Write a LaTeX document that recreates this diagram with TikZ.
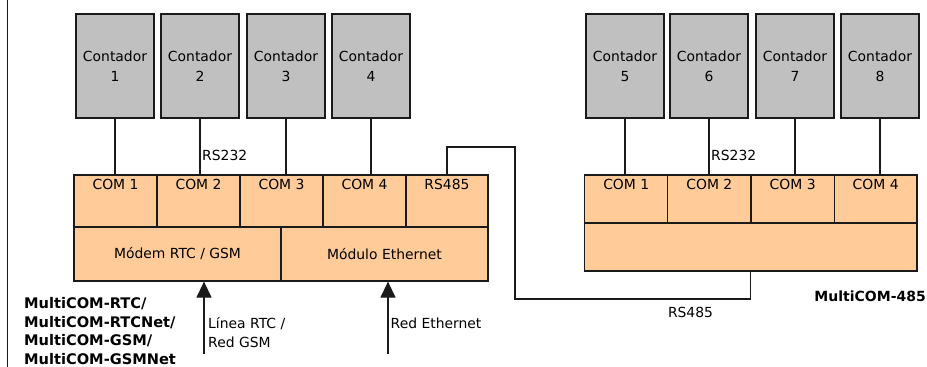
\documentclass[tikz,border=0pt]{standalone}
\usepackage{fontspec}
\setmainfont{DejaVu Sans}
\usetikzlibrary{arrows.meta}
\definecolor{boxgray}{HTML}{C0C0C0}
\definecolor{peach}{HTML}{FFCC99}
\definecolor{edge}{HTML}{1A1A1A}
\begin{document}
\begin{tikzpicture}[x=1pt,y=-1pt,
  every node/.style={font=\fontsize{13.9}{20}\selectfont},
  meter/.style={draw=edge,line width=1.2pt,fill=boxgray,inner sep=0pt,minimum width=78pt,minimum height=104pt,align=center},
  cell/.style={draw=edge,line width=1.2pt,fill=peach,inner sep=0pt},
  celltext/.style={anchor=north,inner sep=0pt},
  wire/.style={draw=edge,line width=1.2pt},
  arr/.style={draw=edge,line width=1.2pt,-{Triangle[width=15pt,length=16pt]}},
  lbl/.style={inner sep=0pt,anchor=west,align=left},
  bold/.style={inner sep=0pt,font=\fontsize{14.6}{18.7}\selectfont\bfseries,align=left}]
\useasboundingbox (0,0) rectangle (927,367);
\draw[line width=1.5pt,edge] (7.5,0) -- (7.5,367);
% left meters
\node[meter] (k1) at (115,66) {Contador\\1};
\node[meter] (k2) at (200,66) {Contador\\2};
\node[meter] (k3) at (286,66) {Contador\\3};
\node[meter] (k4) at (371,66) {Contador\\4};
% left COM row
\node[cell,minimum width=83pt,minimum height=52pt] (c1) at (115.5,201) {};
\node[cell,minimum width=83pt,minimum height=52pt] (c2) at (198.5,201) {};
\node[cell,minimum width=83pt,minimum height=52pt] (c3) at (281.5,201) {};
\node[cell,minimum width=83pt,minimum height=52pt] (c4) at (364.5,201) {};
\node[cell,minimum width=82pt,minimum height=52pt] (rs) at (447,201) {};
\node[celltext] (t1) at ([yshift=-5pt]c1.north) {COM 1};
\node[celltext] (t2) at ([yshift=-5pt]c2.north) {COM 2};
\node[celltext] (t3) at ([yshift=-5pt]c3.north) {COM 3};
\node[celltext] (t4) at ([yshift=-5pt]c4.north) {COM 4};
\node[celltext] (t5) at ([yshift=-5pt]rs.north) {RS485};
\node[cell,minimum width=207pt,minimum height=54pt] (modem) at (177.5,254) {Módem RTC / GSM};
\node[cell,minimum width=207pt,minimum height=54pt] (eth) at (384.5,254) {Módulo Ethernet};
% right meters
\node[meter] (k5) at (625,66) {Contador\\5};
\node[meter] (k6) at (709,66) {Contador\\6};
\node[meter] (k7) at (795,66) {Contador\\7};
\node[meter] (k8) at (880,66) {Contador\\8};
\node[cell,minimum width=83pt,minimum height=48pt] (d1) at (626.2,199) {};
\node[cell,minimum width=83.3pt,minimum height=48pt] (d2) at (709.35,199) {};
\node[cell,minimum width=83.3pt,minimum height=48pt] (d3) at (792.65,199) {};
\node[cell,minimum width=82.7pt,minimum height=48pt] (d4) at (875.65,199) {};
\node[celltext] (u1) at ([yshift=-5pt]d1.north) {COM 1};
\node[celltext] (u2) at ([yshift=-5pt]d2.north) {COM 2};
\node[celltext] (u3) at ([yshift=-5pt]d3.north) {COM 3};
\node[celltext] (u4) at ([yshift=-5pt]d4.north) {COM 4};
\node[cell,minimum width=332.3pt,minimum height=48pt] (base2) at (750.85,247) {};
% meter connections
\foreach \k/\c in {k1/c1,k2/c2,k3/c3,k4/c4,k5/d1,k6/d2,k7/d3,k8/d4}
  \draw[wire] (\k.south) -- (\k.south |- \c.north);
\node[lbl] (r232a) at (202,155) {RS232};
\node[lbl] (r232b) at (711,155) {RS232};
% RS485 bus
\coordinate (p1) at (515,147);
\coordinate (p2) at (515,299);
\draw[wire] (rs.north) |- (p1) -- (p2) -| (base2.south);
\node[inner sep=0pt] (r485) at (690.5,312) {RS485};
% incoming lines
\coordinate (a1) at (204,354);
\coordinate (a2) at (388,354);
\draw[arr] (a1) -- (a1 |- modem.south);
\draw[arr] (a2) -- (a2 |- eth.south);
\node[lbl,font=\fontsize{13.9}{19}\selectfont] (la1) at (208,332.5) {Línea RTC /\\Red GSM};
\node[lbl] (la2) at (390.5,323) {Red Ethernet};
% model names
\node[bold,anchor=west] (mname) at (24,331) {MultiCOM-RTC/\\MultiCOM-RTCNet/\\MultiCOM-GSM/\\MultiCOM-GSMNet};
\node[bold,anchor=east,font=\fontsize{14}{18.7}\selectfont\bfseries] (m485) at (926,296) {MultiCOM-485};
\end{tikzpicture}
\end{document}
